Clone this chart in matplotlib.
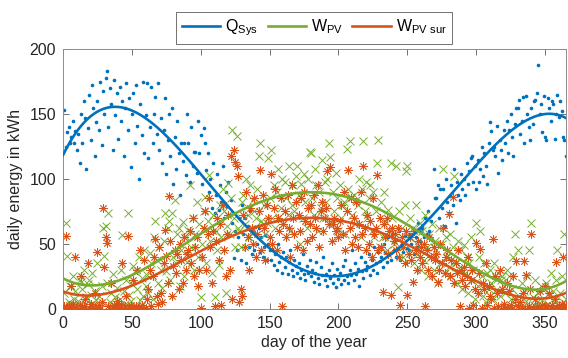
import matplotlib.pyplot as plt
import numpy as np

plt.rcParams['font.family'] = ['Liberation Sans', 'DejaVu Sans']
plt.rcParams['mathtext.default'] = 'regular'

# daily values, day 1..365
q_sys = [153, 125, 136, 140, 128, 132, 145, 128, 137, 122,
         135, 112, 150, 128, 160, 147, 108, 139, 165, 130,
         172, 155, 118, 144, 160, 138, 175, 126, 168, 150,
         178, 183, 140, 170, 158, 122, 176, 149, 166, 131,
         171, 145, 160, 118, 155, 174, 138, 162, 109, 150,
         166, 128, 172, 141, 100, 158, 134, 175, 120, 149,
         174, 116, 140, 171, 128, 150, 163, 135, 174, 122,
         147, 112, 138, 162, 104, 130, 150, 118, 155, 96,
         132, 108, 145, 120, 88, 128, 114, 128, 103, 150,
         128, 98, 140, 110, 121, 121, 105, 145, 120, 134,
         96, 139, 128, 107, 120, 90, 100, 78, 112, 74,
         88, 104, 76, 95, 82, 110, 70, 90, 79, 98,
         72, 84, 66, 39, 60, 45, 55, 70, 38, 80,
         58, 70, 35, 64, 48, 75, 42, 60, 45, 58,
         50, 62, 44, 55, 40, 48, 57, 38, 50, 45,
         38, 46, 34, 42, 30, 50, 36, 40, 28, 44,
         32, 40, 27, 36, 45, 30, 25, 38, 33, 28,
         35, 24, 30, 42, 27, 22, 33, 28, 38, 25,
         30, 21, 28, 36, 24, 19, 32, 26, 40, 22,
         27, 18, 30, 24, 35, 20, 26, 17, 31, 23,
         28, 19, 33, 22, 38, 25, 20, 30, 26, 45,
         22, 35, 27, 31, 18, 40, 29, 24, 36, 30,
         33, 42, 26, 38, 30, 48, 35, 28, 44, 37,
         40, 32, 50, 44, 36, 55, 42, 38, 58, 45,
         52, 40, 46, 60, 38, 50, 44, 56, 35, 47,
         45, 58, 50, 62, 42, 55, 48, 66, 52, 60,
         62, 55, 70, 58, 75, 60, 68, 53, 108, 85,
         85, 95, 70, 92, 78, 92, 64, 100, 82, 74,
         87, 95, 80, 108, 66, 98, 88, 84, 104, 92,
         100, 88, 112, 96, 106, 116, 118, 98, 110, 92,
         115, 98, 108, 125, 102, 120, 110, 96, 128, 144,
         137, 122, 125, 118, 141, 105, 130, 122, 115, 138,
         128, 145, 120, 138, 150, 132, 118, 142, 155, 155,
         161, 135, 145, 163, 128, 164, 150, 140, 130, 155,
         142, 160, 161, 166, 188, 150, 158, 136, 164, 132,
         130, 162, 155, 145, 160, 158, 131, 150, 165, 148,
         160, 152, 132, 130, 118]

w_pv = [12, 66, 41, 5, 18, 3, 25, 8, 14, 2,
        6, 22, 21, 15, 30, 4, 9, 19, 22, 11,
        28, 3, 14, 7, 35, 10, 2, 18, 62, 41,
        64, 20, 74, 5, 12, 27, 3, 9, 16, 1,
        8, 30, 57, 14, 4, 22, 74, 11, 6, 19,
        33, 29, 2, 15, 40, 7, 24, 10, 45, 18,
        26, 12, 43, 35, 8, 55, 68, 38, 20, 48,
        30, 16, 52, 74, 29, 62, 68, 22, 74, 40,
        84, 35, 58, 62, 18, 45, 67, 25, 55, 36,
        61, 95, 48, 70, 30, 58, 82, 40, 65, 9,
        50, 75, 86, 35, 68, 103, 52, 28, 72, 9,
        60, 45, 34, 80, 55, 92, 75, 12, 64, 97,
        58, 85, 138, 70, 48, 133, 62, 60, 48, 82,
        88, 65, 100, 72, 55, 95, 60, 84, 75, 70,
        92, 118, 128, 68, 65, 80, 58, 66, 116, 85,
        122, 70, 95, 62, 90, 108, 71, 78, 100, 65,
        98, 85, 72, 110, 60, 80, 95, 75, 102, 110,
        88, 50, 96, 70, 104, 82, 62, 100, 121, 120,
        85, 72, 108, 95, 60, 90, 78, 115, 70, 98,
        82, 100, 128, 117, 66, 90, 75, 105, 85, 60,
        95, 70, 80, 82, 58, 123, 92, 129, 86, 72,
        88, 65, 84, 80, 100, 55, 92, 129, 75, 98,
        70, 85, 95, 60, 90, 55, 75, 112, 130, 48,
        82, 55, 90, 68, 45, 76, 60, 112, 70, 50,
        58, 110, 17, 75, 48, 62, 40, 80, 106, 110,
        55, 70, 45, 62, 35, 80, 50, 42, 66, 30,
        60, 38, 72, 48, 25, 58, 40, 65, 30, 52,
        45, 20, 62, 35, 50, 108, 28, 55, 40, 32,
        58, 25, 48, 102, 36, 20, 52, 30, 45, 15,
        49, 28, 40, 12, 35, 55, 22, 30, 8, 66,
        18, 40, 60, 25, 10, 35, 5, 28, 15, 30,
        20, 8, 35, 14, 23, 28, 10, 22, 25, 18,
        12, 30, 2, 25, 8, 15, 40, 58, 3, 45,
        10, 4, 20, 2, 14, 6, 25, 45, 1, 66,
        9, 3, 22, 5, 12, 1, 18, 7, 15, 2,
        20, 4, 10, 28, 1, 14, 6, 22, 45, 3,
        12, 25, 5, 58, 8]

w_pv_sur = [2, 56, 1, 3, 0, 18, 4, 1, 40, 2,
            0, 3, 25, 1, 2, 8, 0, 35, 1, 4,
            2, 0, 12, 1, 44, 3, 0, 5, 78, 32,
            55, 51, 2, 0, 20, 1, 3, 0, 6, 2,
            1, 4, 35, 0, 2, 10, 56, 1, 3, 0,
            22, 0, 2, 30, 1, 45, 3, 0, 38, 1,
            8, 15, 30, 2, 25, 40, 54, 10, 4, 48,
            12, 5, 35, 61, 41, 20, 87, 52, 10, 33,
            45, 28, 42, 15, 50, 38, 20, 55, 30, 42,
            45, 60, 35, 70, 25, 48, 55, 18, 30, 1,
            40, 62, 75, 30, 58, 85, 48, 20, 60, 2,
            52, 70, 38, 65, 3, 80, 45, 25, 58, 72,
            30, 118, 8, 122, 113, 110, 102, 5, 15, 10,
            72, 48, 90, 55, 30, 78, 62, 50, 85, 40,
            58, 75, 107, 45, 88, 62, 38, 80, 70, 55,
            104, 50, 78, 92, 45, 70, 60, 85, 2, 65,
            75, 55, 88, 62, 40, 95, 70, 58, 82, 48,
            72, 60, 85, 45, 90, 68, 52, 78, 65, 80,
            55, 88, 70, 62, 95, 48, 75, 82, 60, 70,
            78, 106, 65, 109, 52, 65, 70, 60, 62, 55,
            68, 80, 58, 90, 45, 75, 107, 62, 85, 50,
            70, 55, 82, 48, 65, 90, 58, 110, 62, 45,
            72, 50, 68, 40, 85, 58, 62, 103, 45, 70,
            48, 13, 65, 55, 70, 42, 60, 11, 62, 52,
            58, 45, 62, 40, 3, 55, 48, 35, 60, 11,
            42, 55, 38, 21, 60, 45, 30, 52, 40, 48,
            35, 50, 2, 45, 30, 55, 40, 25, 48, 38,
            42, 21, 30, 50, 35, 62, 28, 40, 45, 73,
            25, 38, 86, 20, 35, 28, 45, 2, 30, 22,
            32, 18, 25, 40, 1, 22, 30, 3, 15, 51,
            12, 28, 46, 1, 20, 15, 35, 3, 18, 10,
            8, 54, 1, 25, 12, 2, 30, 0, 15, 4,
            1, 20, 0, 14, 3, 0, 25, 8, 37, 2,
            0, 5, 1, 12, 37, 26, 0, 2, 15, 58,
            1, 0, 8, 2, 0, 14, 1, 3, 0, 18,
            2, 0, 12, 1, 3, 0, 8, 36, 1, 2,
            0, 4, 40, 1, 3]

days = np.arange(1, len(q_sys) + 1)

c_blue = '#0072BD'
c_green = '#77AC30'
c_orange = '#D95319'

# smooth fit through each series (4th order polynomial, like the trend lines)
t = np.linspace(0, 365, 400)
def trend(y):
    p = np.polyfit(days / 365.0, y, 4)
    return np.polyval(p, t / 365.0)

fig = plt.figure(figsize=(5.68, 3.58), dpi=100)
ax = fig.add_axes([0.111, 0.137, 0.885, 0.726])

ax.plot(days, q_sys, '.', color=c_blue, markersize=3.2, zorder=2)
ax.plot(days, w_pv, 'x', color=c_green, markersize=6, mew=0.7, zorder=2)
ax.plot(days, w_pv_sur, marker=(8, 2, 0), ls='none', color=c_orange,
        markersize=6, mew=0.6, zorder=3)

ax.plot(t, trend(q_sys), color=c_blue, lw=1.9, label=r'Q$_{Sys}$', zorder=4)
ax.plot(t, trend(w_pv), color=c_green, lw=1.9, label=r'W$_{PV}$', zorder=4)
ax.plot(t, trend(w_pv_sur), color=c_orange, lw=1.9, label=r'W$_{PV\ sur}$', zorder=4)

ax.set_xlim(0, 365)
ax.set_ylim(0, 200)
ax.set_xticks(np.arange(0, 351, 50))
ax.set_yticks(np.arange(0, 201, 50))
ax.tick_params(direction='in', top=True, right=True, length=4, width=0.6,
               color='0.35', labelsize=11.5, labelcolor='#262626', pad=5)
for s in ax.spines.values():
    s.set_color('0.55')
    s.set_linewidth(0.7)

ax.set_xlabel('day of the year', fontsize=11.5, color='#262626', labelpad=3)
ax.set_ylabel('daily energy in kWh', fontsize=11.5, color='#262626', labelpad=5)

leg = ax.legend(loc='lower center', bbox_to_anchor=(0.5, 1.02), ncol=3,
                fontsize=11.5, frameon=True, fancybox=False, handlelength=2.4,
                handletextpad=0.3, columnspacing=0.6, borderpad=0.35,
                borderaxespad=0)
leg.get_frame().set_edgecolor('0.3')
leg.get_frame().set_linewidth(0.7)

fig.savefig('out.png', dpi=100)
